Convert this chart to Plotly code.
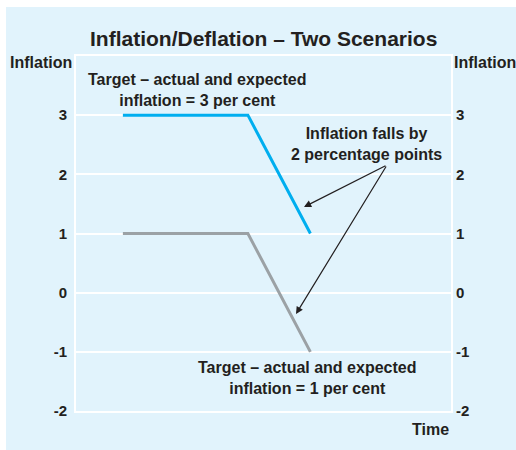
import plotly.graph_objects as go

# Data
time = [1.5, 5.5, 7.5]
inflation_high = [3, 3, 1]   # target 3 per cent scenario
inflation_low = [1, 1, -1]   # target 1 per cent scenario
y_ticks = [-2, -1, 0, 1, 2, 3]
y_ticklabels = ["-2", "-1", "0", "1", "2", "3"]

BG = "#E1F3FC"
TXT = "#231F20"
FONT = "Liberation Sans, Arial, Helvetica, sans-serif"

fig = go.Figure()
fig.add_trace(go.Scatter(x=time, y=inflation_high, mode="lines",
                         line=dict(color="#00AEEF", width=3), hoverinfo="skip"))
fig.add_trace(go.Scatter(x=time, y=inflation_low, mode="lines",
                         line=dict(color="#9BA1A5", width=3), hoverinfo="skip"))
fig.add_trace(go.Scatter(x=time, y=inflation_low, mode="lines", yaxis="y2",
                         line=dict(width=0), opacity=0, hoverinfo="skip"))

L, R, T, B = 76, 65, 56, 39
W, H = 516, 450
pw, ph = W - L - R, H - T - B

def px(x):
    return (x - L) / pw

def py(y):
    return (H - B - y) / ph

# panel background with white strip at left and top
fig.add_shape(type="rect", xref="paper", yref="paper",
              x0=px(6), x1=px(W + 5), y0=py(H + 5), y1=py(7),
              fillcolor=BG, line=dict(width=0), layer="below")

tick_font = dict(family=FONT, size=15, color=TXT, weight="bold")
lab_font = dict(family=FONT, size=16, color=TXT, weight="bold")
fig.update_layout(
    width=W, height=H,
    margin=dict(l=L, r=R, t=T, b=B),
    paper_bgcolor="white",
    plot_bgcolor=BG,
    showlegend=False,
    font=dict(family=FONT, color=TXT),
    xaxis=dict(range=[0, 12], showgrid=False, zeroline=False, showticklabels=False,
               showline=True, mirror=True, linecolor="white", linewidth=2, fixedrange=True),
    yaxis=dict(range=[-2, 4], tickvals=y_ticks, ticktext=y_ticklabels,
               showgrid=True, gridcolor="white", gridwidth=2, zeroline=False,
               showline=True, mirror=True, linecolor="white", linewidth=2,
               ticks="", tickfont=tick_font, ticklabelstandoff=4, fixedrange=True),
    yaxis2=dict(range=[-2, 4], tickvals=y_ticks, ticktext=y_ticklabels,
                overlaying="y", side="right", showgrid=False, zeroline=False,
                showline=False, ticks="", tickfont=tick_font, ticklabelstandoff=4,
                fixedrange=True),
)

bold = lambda s: "<b>" + s + "</b>"

annots = [
    dict(text=bold("Inflation/Deflation – Two Scenarios"), x=px(263), y=py(38),
         font=dict(family=FONT, size=21, color=TXT)),
    dict(text=bold("Inflation"), x=px(41), y=py(63), font=lab_font),
    dict(text=bold("Inflation"), x=px(485), y=py(63), font=lab_font),
    dict(text=bold("Target – actual and expected<br>inflation = 3 per cent"), x=px(197), y=py(90),
         font=lab_font),
    dict(text=bold("Inflation falls by<br>2 percentage points"), x=px(366), y=py(144),
         font=lab_font),
    dict(text=bold("Target – actual and expected<br>inflation = 1 per cent"), x=px(307), y=py(378),
         font=lab_font),
    dict(text=bold("Time"), x=px(451), y=py(429), xanchor="right", font=lab_font),
]
for a in annots:
    a.setdefault("xanchor", "center")
    fig.add_annotation(xref="paper", yref="paper", showarrow=False, yanchor="middle",
                       align="center", **a)

# arrows
for (tx, ty) in [(304, 207), (296, 314)]:
    fig.add_annotation(xref="paper", yref="paper", axref="pixel", ayref="pixel",
                       x=px(tx), y=py(ty), ax=387 - tx, ay=165 - ty, text="",
                       showarrow=True, arrowhead=2, arrowsize=1.2, arrowwidth=1.2,
                       arrowcolor=TXT, standoff=0, startstandoff=0)

fig.write_html("out.html", config={"displayModeBar": False},
               post_script="document.body.style.margin='0';")
